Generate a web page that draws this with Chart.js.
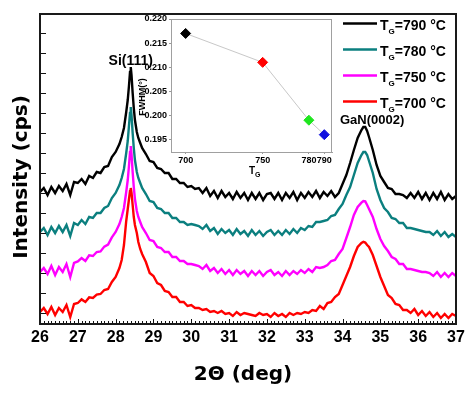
<!DOCTYPE html>
<html><head><meta charset="utf-8">
<script src="https://cdn.jsdelivr.net/npm/chart.js@4.4.1/dist/chart.umd.min.js"></script>
<style>
html,body{margin:0;padding:0;background:#fff;}
#wrap{position:relative;width:474px;height:393px;overflow:hidden;background:#fff;}
#main{position:absolute;left:0;top:0;}
#inset{position:absolute;left:100px;top:10px;}
</style></head><body>
<div id="wrap"><canvas id="main" width="474" height="393"></canvas><canvas id="inset" width="240" height="175"></canvas></div>
<script>
// ---------- data ----------
const twoTheta = [
 26.0,26.1,26.2,26.3,26.4,26.5,26.6,26.7,26.8,26.9,
 27.0,27.1,27.2,27.3,27.4,27.5,27.6,27.7,27.8,27.9,
 28.0,28.1,
 28.16,28.22,28.28,28.32,28.35,28.38,28.40,28.42,28.45,28.48,28.51,28.56,28.60,28.65,
 28.7,28.8,28.9,29.0,29.1,29.2,29.3,29.4,29.5,29.6,
 29.7,29.8,29.9,30.0,30.1,30.2,30.3,30.4,30.5,30.6,
 30.7,30.8,30.9,31.0,31.1,31.2,31.3,31.4,31.5,31.6,
 31.7,31.8,31.9,32.0,32.1,32.2,32.3,32.4,32.5,32.6,
 32.7,32.8,32.9,33.0,33.1,33.2,33.3,33.4,33.5,33.6,
 33.7,33.8,33.9,34.0,34.1,34.2,34.3,34.4,34.5,
 34.55,34.6,34.65,
 34.7,34.8,34.9,35.0,35.1,35.2,35.3,35.4,35.5,35.6,
 35.7,35.8,35.9,36.0,36.1,36.2,36.3,36.4,36.5,36.6,
 36.7,36.8,36.9,37.0
];
const int790 = [
 605,625,590,630,600,635,610,645,590,655,
 650,670,645,685,675,705,700,730,735,780,
 805,845,
 880,925,1005,1065,1130,1205,1230,1190,1100,1025,965,905,875,850,
 825,795,760,755,725,720,700,700,670,670,
 650,650,630,635,620,625,600,625,585,610,
 575,610,580,600,570,605,575,600,565,600,
 570,600,565,595,600,570,600,565,600,575,
 605,565,600,575,605,580,610,575,605,585,
 610,580,600,645,690,750,815,875,915,
 930,930,910,
 880,815,740,685,655,625,620,595,595,590,
 575,600,575,605,570,600,565,600,570,605,
 565,595,570,585
];
const int780 = [
 405,425,390,430,400,435,405,440,385,450,
 440,465,445,480,475,500,500,525,535,575,
 600,640,
 675,720,800,860,930,1000,1030,990,900,825,765,705,675,650,
 625,595,560,555,525,520,500,500,475,475,
 455,455,440,445,440,435,420,440,410,425,
 395,420,400,415,390,420,395,410,385,415,
 390,410,385,405,415,390,410,390,415,395,
 420,400,425,415,435,430,455,455,460,465,
 485,490,520,545,590,630,690,750,790,
 805,805,790,
 760,700,620,565,525,505,475,470,450,450,
 425,425,420,415,410,405,405,390,410,385,
 405,380,395,380
];
const int750 = [
 205,225,195,235,190,230,205,245,180,250,
 258,275,260,288,285,305,308,332,342,378,
 405,445,
 480,525,605,665,730,805,835,795,705,630,570,510,480,455,
 430,400,365,360,330,325,305,305,280,280,
 260,260,245,245,240,235,220,240,210,225,
 200,220,195,215,190,215,195,210,185,210,
 190,210,185,205,215,190,205,185,210,190,
 210,195,215,200,220,205,230,225,230,240,
 260,265,295,320,375,430,490,530,552,
 560,558,540,
 520,480,420,370,335,310,280,270,245,245,
 220,220,215,210,205,205,200,185,205,180,
 200,180,200,185
];
const int700 = [
 5,25,-5,30,-10,25,5,40,-20,45,
 50,68,55,78,75,92,95,115,120,155,
 180,225,
 265,340,460,520,565,610,625,600,540,480,440,400,355,320,
 295,255,200,185,150,140,110,105,80,80,
 55,55,35,40,25,25,15,20,5,10,
 0,10,-5,0,-15,5,-10,0,-5,-10,
 -15,0,-10,-5,-20,0,-15,-5,-20,0,
 -10,0,-5,5,0,15,10,35,20,50,
 55,80,95,140,185,230,285,330,350,
 356,352,340,
 330,290,235,180,135,90,75,45,40,15,
 15,0,20,-10,10,-15,5,-20,0,-25,
 -5,-25,-5,-15
];
const growthTemps = ['790','780','750','700'];
const xTickValues = [26,27,28,29,30,31,32,33,34,35,36,37];
const yTickValues = [0,100,200,300,400,500,600,700,800,900,1000,1100,1200,1300,1400];
const siPeak = 28.40, ganPeak = 34.57;
// inset
const insetTemps = [700,750,780,790];
const insetFWHM = [0.217,0.211,0.199,0.196];
const insetYTickValues = [0.195,0.200,0.205,0.210,0.215,0.220];

// ---------- styles ----------
const SANS = "'Liberation Sans', Arial, Helvetica, sans-serif";
const VERD = "'DejaVu Sans', Verdana, sans-serif";
const lineColors = {'790':'#000000','780':'#0b7f7f','750':'#ff00ff','700':'#ff0000'};
const insetColors = ['#000000','#ff0000','#1ee61e','#1010e0'];

function drawRich(ctx, x, y, parts){
  parts.forEach(([t,size,dy])=>{
    ctx.font = `bold ${size}px ${SANS}`;
    ctx.fillText(t, x, y+dy);
    x += ctx.measureText(t).width;
  });
  return x;
}

const seriesData = {'790':int790,'780':int780,'750':int750,'700':int700};
const drawOrder = ['700','750','780','790']; // first dataset drawn on top

const mainDecor = {
  id:'mainDecor',
  afterDraw(chart){
    const {ctx, chartArea:a, scales:{x,y}} = chart;
    ctx.save();
    ctx.strokeStyle = '#111'; ctx.lineWidth = 1;
    ctx.beginPath();
    yTickValues.forEach(v=>{
      const p = Math.round(y.getPixelForValue(v))+0.5;
      ctx.moveTo(a.left, p); ctx.lineTo(a.left+6, p);
    });
    for(let k=0;k<=110;k++){
      const v = 26 + k/10;
      const p = Math.round(x.getPixelForValue(v))+0.5;
      const len = (k%10===0)?5:3;
      ctx.moveTo(p, a.bottom); ctx.lineTo(p, a.bottom-len);
    }
    ctx.stroke();
    ctx.lineWidth = 2; ctx.strokeStyle = '#1a1a1a';
    ctx.strokeRect(a.left, a.top, a.right-a.left, a.bottom-a.top);

    // axis titles
    ctx.fillStyle = '#000';
    ctx.font = `bold 20px ${VERD}`;
    ctx.textAlign = 'center'; ctx.textBaseline = 'alphabetic';
    ctx.fillText('2\u0398 (deg)', 243, 380);
    ctx.save();
    ctx.translate(27, 177); ctx.rotate(-Math.PI/2);
    ctx.fillText('Intensity (cps)', 0, 0);
    ctx.restore();

    // peak annotations
    ctx.font = `bold 14px ${SANS}`;
    ctx.textAlign = 'center';
    ctx.fillText('Si(111)', x.getPixelForValue(siPeak), y.getPixelForValue(1230)-2);
    ctx.font = `bold 13px ${SANS}`;
    ctx.fillText('GaN(0002)', x.getPixelForValue(ganPeak)+8, y.getPixelForValue(930)-3);

    // legend
    ctx.textAlign = 'left';
    growthTemps.forEach((t,i)=>{
      const ly = 23.5 + i*26;
      ctx.strokeStyle = lineColors[t]; ctx.lineWidth = 2.5;
      ctx.beginPath(); ctx.moveTo(343, ly); ctx.lineTo(377, ly); ctx.stroke();
      ctx.fillStyle = '#000';
      drawRich(ctx, 380, ly+6, [['T',14,0],['G',8,4],['='+t+' \u00B0C',14,0]]);
    });
    ctx.restore();
  }
};

new Chart(document.getElementById('main'), {
  type:'line',
  data:{
    datasets: drawOrder.map(t=>({
      label:'TG='+t+' °C',
      data: twoTheta.map((v,i)=>({x:v, y:seriesData[t][i]})),
      borderColor: lineColors[t], borderWidth: 2.4, pointRadius: 0,
      tension: 0, fill: false
    }))
  },
  options:{
    responsive:false, animation:false, devicePixelRatio:1,
    layout:{padding:{top:14,right:18,left:0,bottom:0}},
    plugins:{legend:{display:false}, tooltip:{enabled:false}},
    scales:{
      x:{type:'linear', min:26, max:37,
         afterBuildTicks:s=>{s.ticks = xTickValues.map(v=>({value:v}));},
         ticks:{font:{family:SANS,size:16,weight:'bold'}, color:'#000', padding:4, maxRotation:0, autoSkip:false, callback:v=>String(v)},
         grid:{display:false, drawTicks:false}, border:{display:false},
         afterFit:s=>{s.height = 69;}},
      y:{type:'linear', min:-55, max:1495,
         afterBuildTicks:s=>{s.ticks = yTickValues.map(v=>({value:v}));},
         ticks:{display:false}, grid:{display:false, drawTicks:false}, border:{display:false},
         afterFit:s=>{s.width = 40;}}
    }
  },
  plugins:[mainDecor]
});

const insetDecor = {
  id:'insetDecor',
  beforeDraw(chart){
    const {ctx, chartArea:a} = chart;
    ctx.save(); ctx.fillStyle = '#fff';
    ctx.fillRect(a.left, a.top, a.right-a.left, a.bottom-a.top);
    ctx.restore();
  },
  afterDraw(chart){
    const {ctx, chartArea:a} = chart;
    ctx.save();
    ctx.strokeStyle = '#a0a0a0'; ctx.lineWidth = 1;
    ctx.strokeRect(a.left+0.5, a.top+0.5, a.right-a.left-1, a.bottom-a.top);
    ctx.fillStyle = '#000'; ctx.textBaseline = 'alphabetic'; ctx.textAlign='left';
    const cx = (a.left+a.right)/2;
    drawRich(ctx, cx-2.5, a.bottom+22, [['T',10,0],['G',7,3]]);
    ctx.save();
    ctx.translate(a.left-26.5, (a.top+a.bottom)/2+11.5); ctx.rotate(-Math.PI/2);
    ctx.textAlign='center';
    ctx.font = `bold 9px ${SANS}`;
    ctx.fillText('FWHM(\u00B0)', 0, 0);
    ctx.restore();
    ctx.restore();
  }
};

new Chart(document.getElementById('inset'), {
  type:'scatter',
  data:{datasets:[{
    data: insetTemps.map((t,i)=>({x:t, y:insetFWHM[i]})),
    showLine:true, borderColor:'#c8c8c8', borderWidth:1,
    pointStyle:'rectRot', pointRadius:5, pointBorderWidth:1,
    pointBackgroundColor: insetColors, pointBorderColor: insetColors,
    clip:false
  }]},
  options:{
    responsive:false, animation:false, devicePixelRatio:1,
    layout:{padding:{top:9,right:8,left:0,bottom:0}},
    plugins:{legend:{display:false}, tooltip:{enabled:false}},
    scales:{
      x:{type:'linear', min:690.5, max:795,
         afterBuildTicks:s=>{s.ticks = insetTemps.map(v=>({value:v}));},
         ticks:{font:{family:SANS,size:9,weight:'bold'}, color:'#000', padding:1, maxRotation:0, autoSkip:false, callback:v=>String(v)},
         grid:{drawOnChartArea:false, drawTicks:true, tickLength:2, color:'#999'},
         border:{display:true, color:'#a0a0a0', width:1},
         afterFit:s=>{s.height = 33;}},
      y:{type:'linear', min:0.1924, max:0.2200,
         afterBuildTicks:s=>{s.ticks = insetYTickValues.map(v=>({value:v}));},
         ticks:{font:{family:SANS,size:9,weight:'bold'}, color:'#000', padding:2, callback:v=>Number(v).toFixed(3)},
         grid:{drawOnChartArea:false, drawTicks:true, tickLength:2, color:'#999'},
         border:{display:true, color:'#a0a0a0', width:1},
         afterFit:s=>{s.width = 71;}}
    }
  },
  plugins:[insetDecor]
});
</script>
</body></html>
